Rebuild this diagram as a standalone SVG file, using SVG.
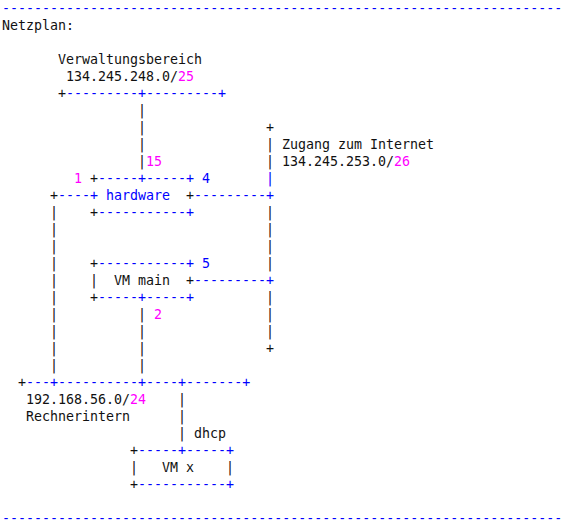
<svg xmlns="http://www.w3.org/2000/svg" width="562" height="525" viewBox="0 0 562 525">
<style>
text{font-family:"DejaVu Sans Mono","Liberation Mono",monospace;font-size:13.3px;white-space:pre;fill:#111}
.b{fill:#0000ff}
.m{fill:#ff00ff}
</style>
<rect width="562" height="525" fill="#fff"/>
<g id="rules">
<text x="2" y="12.5" class="b">----------------------------------------------------------------------</text>
<text x="2" y="522.5" class="b">----------------------------------------------------------------------</text>
</g>
<g id="title"><text x="2" y="29.5">Netzplan:</text></g>
<g id="verwaltungsbereich">
<text x="58" y="63.5">Verwaltungsbereich</text>
<text x="66" y="80.5">134.245.248.0/<tspan class="m">25</tspan></text>
<text x="58" y="97.5">+<tspan class="b">---------+---------+</tspan></text>
</g>
<g id="internet">
<text x="266" y="131.5">+</text>
<text x="282" y="148.5">Zugang zum Internet</text>
<text x="282" y="165.5">134.245.253.0/<tspan class="m">26</tspan></text>
<text x="266" y="352.5">+</text>
</g>
<g id="hardware">
<text x="74" y="182.5" class="m">1</text>
<text x="90" y="182.5">+<tspan class="b">-----+-----+</tspan></text>
<text x="202" y="182.5" class="b">4</text>
<text x="90" y="199.5" class="b">+</text>
<text x="106" y="199.5" class="b">hardware</text>
<text x="186" y="199.5">+</text>
<text x="90" y="216.5">+<tspan class="b">-----------+</tspan></text>
</g>
<g id="vm-main">
<text x="90" y="267.5">+<tspan class="b">-----------+</tspan></text>
<text x="202" y="267.5" class="b">5</text>
<text x="90" y="284.5">|</text>
<text x="114" y="284.5">VM main</text>
<text x="186" y="284.5">+</text>
<text x="90" y="301.5">+<tspan class="b">-----+-----+</tspan></text>
</g>
<g id="rechnerintern">
<text x="18" y="386.5">+<tspan class="b">---+----------+----+-------+</tspan></text>
<text x="26" y="403.5">192.168.56.0/<tspan class="m">24</tspan></text>
<text x="26" y="420.5">Rechnerintern</text>
</g>
<g id="vm-x">
<text x="130" y="454.5">+<tspan class="b">-----+-----+</tspan></text>
<text x="130" y="471.5">|</text>
<text x="162" y="471.5">VM x</text>
<text x="226" y="471.5">|</text>
<text x="130" y="488.5">+<tspan class="b">-----------+</tspan></text>
</g>
<g id="connectors">
<text x="138" y="114.5">|</text>
<text x="138" y="131.5">|</text>
<text x="138" y="148.5">|</text>
<text x="138" y="165.5">|<tspan class="m">15</tspan></text>
<text x="266" y="148.5">|</text>
<text x="266" y="165.5">|</text>
<text x="266" y="182.5" class="b">|</text>
<text x="50" y="199.5">+<tspan class="b">----</tspan></text>
<text x="194" y="199.5" class="b">---------+</text>
<text x="50" y="216.5">|</text>
<text x="266" y="216.5">|</text>
<text x="50" y="233.5">|</text>
<text x="266" y="233.5">|</text>
<text x="50" y="250.5">|</text>
<text x="266" y="250.5">|</text>
<text x="50" y="267.5">|</text>
<text x="266" y="267.5">|</text>
<text x="50" y="284.5">|</text>
<text x="194" y="284.5" class="b">---------+</text>
<text x="50" y="301.5">|</text>
<text x="266" y="301.5">|</text>
<text x="50" y="318.5">|</text>
<text x="138" y="318.5">|</text>
<text x="154" y="318.5" class="m">2</text>
<text x="266" y="318.5">|</text>
<text x="50" y="335.5">|</text>
<text x="138" y="335.5">|</text>
<text x="266" y="335.5">|</text>
<text x="50" y="352.5">|</text>
<text x="138" y="352.5">|</text>
<text x="50" y="369.5">|</text>
<text x="138" y="369.5">|</text>
<text x="178" y="403.5">|</text>
<text x="178" y="420.5">|</text>
<text x="178" y="437.5">|</text>
<text x="194" y="437.5">dhcp</text>
</g>
</svg>
